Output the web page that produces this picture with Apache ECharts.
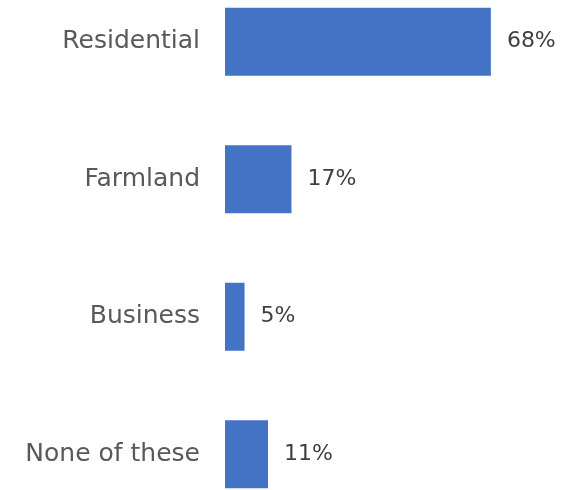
<!DOCTYPE html>
<html>
<head>
<meta charset="utf-8">
<style>
  html, body { margin: 0; padding: 0; background: #ffffff; }
  #chart { width: 561px; height: 490px; }
</style>
<script src="https://cdn.jsdelivr.net/npm/echarts@6/dist/echarts.min.js"></script>
</head>
<body>
<div id="chart"></div>
<script>
// Land use categories, listed top to bottom
const categories = ['Residential', 'Farmland', 'Business', 'None of these'];
// Share of responses (%)
const shares = [68, 17, 5, 11];

const chart = echarts.init(document.getElementById('chart'), null, { renderer: 'canvas' });

const fontFamily = '"DejaVu Sans", "Noto Sans", sans-serif';

chart.setOption({
  animation: false,
  backgroundColor: '#ffffff',
  grid: {
    left: 225,
    top: -27,
    width: 391,
    height: 550,
    outerBoundsMode: 'none',
    containLabel: false
  },
  xAxis: {
    type: 'value',
    min: 0,
    max: 100,
    show: false
  },
  yAxis: {
    type: 'category',
    data: categories,
    inverse: true,
    axisLine: { show: false },
    axisTick: { show: false },
    splitLine: { show: false },
    axisLabel: {
      margin: 25,
      color: '#595959',
      fontSize: 25,
      fontFamily: fontFamily
    }
  },
  series: [{
    type: 'bar',
    data: shares,
    barWidth: 68,
    itemStyle: { color: '#4472C4' },
    label: {
      show: true,
      position: 'right',
      distance: 16,
      formatter: '{c}%',
      color: '#404040',
      fontSize: 22,
      fontFamily: fontFamily
    }
  }]
});
</script>
</body>
</html>
